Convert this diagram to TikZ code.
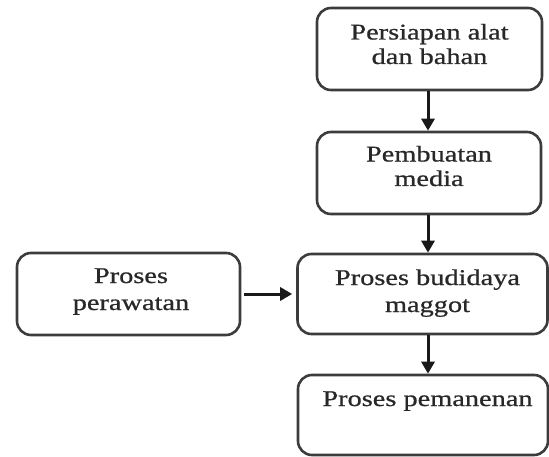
\documentclass[tikz,border=0pt]{standalone}
\usepackage{fontspec}
\setmainfont[FakeStretch=1.26,FakeBold=0.8]{Liberation Serif}
\usetikzlibrary{arrows.meta}
\definecolor{boxline}{RGB}{60,60,60}
\definecolor{txtcol}{RGB}{40,40,40}
\tikzset{
  stepbox/.style={draw=boxline, line width=2.6pt, rounded corners=14pt, inner sep=0pt},
  lbl/.style={anchor=base, align=center, inner sep=0pt, text=txtcol,
    font=\fontsize{22.5}{24.5}\selectfont},
  flow/.style={line width=3pt, draw=black!90, -{Triangle[width=13pt,length=12pt]}}
}
\begin{document}
\begin{tikzpicture}[x=1pt,y=-1pt]
\useasboundingbox (0,0) rectangle (549,457);
% boxes
\node[stepbox, minimum width=225pt, minimum height=82pt] (b1) at (429.5,49) {};
\node[stepbox, minimum width=224pt, minimum height=82pt] (b2) at (429,173) {};
\node[stepbox, minimum width=250pt, minimum height=80pt] (b3) at (422.5,294) {};
\node[stepbox, minimum width=223pt, minimum height=82pt] (b4) at (128.5,294) {};
\node[stepbox, minimum width=250pt, minimum height=80pt] (b5) at (423,415) {};
% texts (anchor base = baseline of last line)
\node[lbl] (t1) at (429.5,64) {Persiapan alat\\dan bahan};
\node[lbl] (t2) at (429,186) {Pembuatan\\media};
\node[lbl, font=\fontsize{22.5}{27}\selectfont] (t3) at (427.5,312) {Proses budidaya\\maggot};
\node[lbl, font=\fontsize{22.5}{27}\selectfont] (t4) at (131,310) {Proses\\perawatan};
\node[lbl] (t5) at (427.5,406) {Proses pemanenan};
% arrows
\draw[flow] (b1.south -| 428,0) -- (b2.north -| 428,0);
\draw[flow] (b2.south -| 428,0) -- (b3.north -| 428,0);
\draw[flow] (b3.south -| 428,0) -- (b5.north -| 428,0);
\draw[flow, shorten <=3pt, shorten >=4pt] (b4.east) -- (b3.west |- b4.east);
\end{tikzpicture}
\end{document}
